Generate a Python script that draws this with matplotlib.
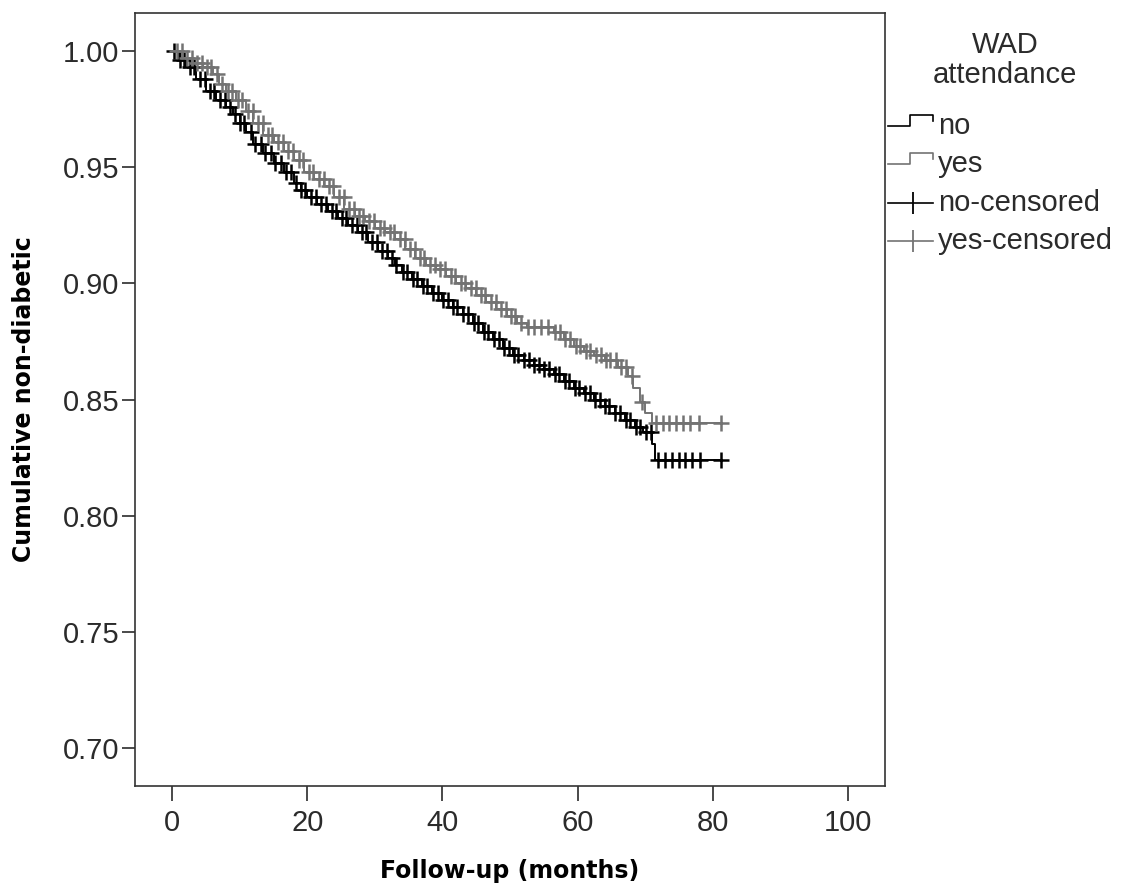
import numpy as np
import matplotlib
matplotlib.use('Agg')
import matplotlib.pyplot as plt
from matplotlib.lines import Line2D

## DATA
# event times (months) and survival for the two groups
no_times = [0, 1, 2, 3.5, 5, 6.5, 8, 9, 10, 11, 12, 13.5, 15, 16.5, 18, 19, 20,
            21.5, 23, 24.5, 26, 27.5, 29, 30.5, 32, 33, 34, 35.5, 37, 38.5, 40,
            41.5, 43, 44.5, 46, 47.5, 49, 50.5, 52, 53.5, 55, 56.5, 58, 59.5, 61,
            62.5, 64, 65.5, 67, 68.5, 69.7, 71, 71.5]
no_surv = [1.000, 0.996, 0.993, 0.988, 0.983, 0.979, 0.976, 0.973, 0.969, 0.965,
           0.960, 0.956, 0.952, 0.948, 0.943, 0.940, 0.937, 0.934, 0.931, 0.928,
           0.925, 0.922, 0.918, 0.914, 0.911, 0.908, 0.905, 0.902, 0.899, 0.896,
           0.893, 0.890, 0.887, 0.883, 0.879, 0.876, 0.872, 0.869, 0.867, 0.865,
           0.863, 0.861, 0.858, 0.855, 0.853, 0.850, 0.847, 0.844, 0.841, 0.838,
           0.836, 0.831, 0.824]
no_censored = [0.3, 1.1, 1.8, 2.6, 3.3, 4.1, 4.8, 5.6, 6.2, 7.1, 7.8, 8.6, 9.3,
               10.1, 10.7, 11.6, 12.3, 13.1, 13.8, 14.6, 15.2, 16.1, 16.8, 17.6,
               18.3, 19.1, 19.7, 20.6, 21.3, 22.1, 22.8, 23.6, 24.2, 25.1, 25.8,
               26.6, 27.3, 28.1, 28.7, 29.6, 30.3, 31.1, 31.8, 32.6, 33.2, 34.1,
               34.8, 35.6, 36.3, 37.1, 37.7, 38.6, 39.3, 40.1, 40.8, 41.6, 42.2,
               43.1, 43.8, 44.6, 45.3, 46.1, 46.7, 47.6, 48.3, 49.1, 49.8, 50.6,
               51.2, 52.1, 52.8, 53.6, 54.3, 55.1, 55.7, 56.6, 57.3, 58.1, 58.8,
               59.6, 60.2, 61.1, 61.8, 62.6, 63.3, 64.1, 64.7, 65.6, 66.3, 67.1,
               67.8, 68.6, 69.3, 70.1, 70.8, 71.9, 73.0, 74.0, 75.0, 75.9, 76.9,
               78.1, 81.2]

yes_times = [0, 1.5, 3, 4.5, 6, 7, 8, 9.5, 11, 12, 13.5, 15, 16.5, 18, 19.5, 21,
             22.5, 24, 25.5, 27, 28.5, 30, 31.5, 33, 34.5, 36, 37.5, 39, 40.5, 42,
             43.5, 45, 46.5, 48, 49.5, 51, 52.5, 56.5, 58, 59.5, 61, 62.5, 64, 66,
             67.5, 68.2, 69.2, 70, 71]
yes_surv = [1.000, 0.997, 0.995, 0.993, 0.990, 0.986, 0.983, 0.979, 0.974, 0.969,
            0.964, 0.961, 0.957, 0.953, 0.948, 0.945, 0.942, 0.937, 0.932, 0.929,
            0.927, 0.924, 0.922, 0.919, 0.915, 0.911, 0.908, 0.906, 0.903, 0.900,
            0.898, 0.895, 0.892, 0.889, 0.886, 0.883, 0.881, 0.879, 0.876, 0.873,
            0.871, 0.869, 0.867, 0.864, 0.860, 0.855, 0.849, 0.844, 0.840]
yes_censored = [0.7, 1.4, 2.2, 2.9, 3.7, 4.4, 5.2, 5.8, 6.7, 7.4, 8.2, 8.9, 9.7,
                10.3, 11.2, 11.9, 12.7, 13.4, 14.2, 14.8, 15.7, 16.4, 17.2, 17.9,
                18.7, 19.3, 20.2, 20.9, 21.7, 22.4, 23.2, 23.8, 24.7, 25.4, 26.2,
                26.9, 27.7, 28.3, 29.2, 29.9, 30.7, 31.4, 32.2, 32.8, 33.7, 34.4,
                35.2, 35.9, 36.7, 37.3, 38.2, 38.9, 39.7, 40.4, 41.2, 41.8, 42.7,
                43.4, 44.2, 44.9, 45.7, 46.3, 47.2, 47.9, 48.7, 49.4, 50.2, 50.8,
                51.7, 52.6, 53.6, 54.6, 55.6, 56.6, 57.4, 58.2, 58.9, 59.7, 60.3,
                61.2, 61.9, 62.7, 63.4, 64.2, 64.8, 65.7, 66.4, 67.2, 68.0, 69.6,
                71.6, 72.6, 73.6, 74.6, 75.6, 76.6, 78.0, 81.2]

x_ticks = [0, 20, 40, 60, 80, 100]
y_ticks = [0.70, 0.75, 0.80, 0.85, 0.90, 0.95, 1.00]

BLACK = '#000000'
GREY = '#737373'
TXT = '#2b2b2b'
W, H = 1138, 896

plt.rcParams['font.family'] = ['Liberation Sans', 'DejaVu Sans']


def survAt(times, surv, t):
    i = np.searchsorted(times, t, side='right') - 1
    return np.asarray(surv)[i]


def px(x, y):
    return x / W, 1 - y / H


fig = plt.figure(figsize=(W / 100, H / 100), dpi=100)
ax = fig.add_axes([135 / W, 1 - 786 / H, 750 / W, 773 / H])

for times, surv, cens, col in [(no_times, no_surv, no_censored, BLACK),
                               (yes_times, yes_surv, yes_censored, GREY)]:
    tt = list(times) + [max(cens)]
    ss = list(surv) + [surv[-1]]
    ax.step(tt, ss, where='post', color=col, lw=1.4)
    ax.plot(cens, survAt(times, surv, cens), ls='none', marker='+', color=col,
            ms=11, mew=1.8)

ax.set_xlim(-5.5, 105.5)
ax.set_ylim(0.6836, 1.0164)
ax.set_xticks(x_ticks)
ax.set_yticks(y_ticks)
ax.set_yticklabels([f'{v:.2f}' for v in y_ticks])
ax.tick_params(axis='x', length=10.5, width=1.2, pad=6, labelsize=21,
               colors=TXT)
ax.tick_params(axis='y', length=9.4, width=1.2, pad=2, labelsize=21,
               colors=TXT)
for sp in ax.spines.values():
    sp.set_color('#333333')
    sp.set_linewidth(1.2)

ax.set_xlabel('Follow-up (months)', family='DejaVu Sans', fontweight='bold',
              fontsize=17, labelpad=16)
ax.set_ylabel('Cumulative non-diabetic', family='DejaVu Sans',
              fontweight='bold', fontsize=17, labelpad=19)

## LEGEND (drawn by hand, SPSS style)
tx, ty = px(1005, 52.7)
fig.text(tx, ty, 'WAD', ha='center', va='baseline', fontsize=21, color=TXT)
tx, ty = px(1005, 82.7)
fig.text(tx, ty, 'attendance', ha='center', va='baseline', fontsize=21,
         color=TXT)

labels = ['no', 'yes', 'no-censored', 'yes-censored']
baselines = [134, 172, 211, 249]
for i, (lab, base) in enumerate(zip(labels, baselines)):
    col = BLACK if i % 2 == 0 else GREY
    mid = base - 8
    if i < 2:
        xs = [888, 910, 910, 933, 933]
        ys = [mid, mid, mid - 11, mid - 11, mid - 5]
    else:
        xs = [888, 933]
        ys = [mid, mid]
    fx = [px(a, b)[0] for a, b in zip(xs, ys)]
    fy = [px(a, b)[1] for a, b in zip(xs, ys)]
    fig.add_artist(Line2D(fx, fy, color=col, lw=1.2, transform=fig.transFigure))
    if i >= 2:
        mx, my = px(913, mid)
        fig.add_artist(Line2D([mx], [my], marker='|', ms=16, mew=1.3, color=col,
                              transform=fig.transFigure))
    lx, ly = px(938, base)
    fig.text(lx, ly, lab, ha='left', va='baseline', fontsize=21, color=TXT)

fig.savefig('out.png', dpi=100, facecolor='white')
